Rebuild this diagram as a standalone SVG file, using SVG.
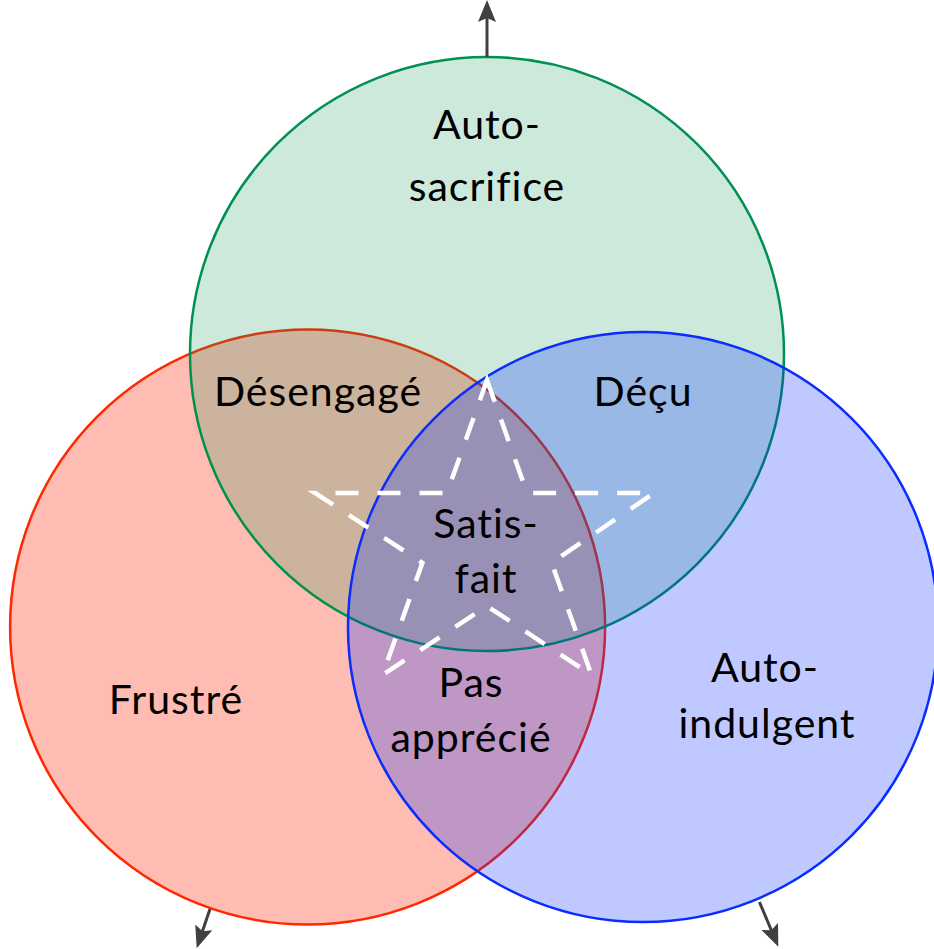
<svg xmlns="http://www.w3.org/2000/svg" width="934" height="949" viewBox="0 0 934 949">
  <style>
    .lbl { font-family: "Lato", "Open Sans", sans-serif; font-size: 41px; letter-spacing: 1px; fill: #000; text-anchor: middle; }
    .circ { stroke-width: 2.5; }
    .arrow { stroke: #404040; stroke-width: 3; fill: none; marker-end: url(#head); }
    .star { fill: none; stroke: #fff; stroke-width: 4.5; stroke-dasharray: 23 19; stroke-linejoin: miter; }
  </style>
  <defs>
    <marker id="head" markerUnits="userSpaceOnUse" markerWidth="24" markerHeight="20" refX="12" refY="10" orient="auto">
      <path d="M0,1 L22,10 L0,19 L4,10 Z" fill="#404040"/>
    </marker>
  </defs>
  <rect width="934" height="949" fill="#fff"/>
  <g id="frustre">
    <circle class="circ" cx="307.6" cy="627" r="297.5" fill="rgba(255,32,0,0.3)" stroke="#ff2800"/>
  </g>
  <g id="auto-sacrifice">
    <circle class="circ" cx="487" cy="354" r="297" fill="rgba(0,144,80,0.2)" stroke="#009050"/>
  </g>
  <g id="auto-indulgent">
    <circle class="circ" cx="643" cy="627" r="295" fill="rgba(0,40,255,0.25)" stroke="#0a2cff"/>
  </g>
  <g id="satisfait-star">
    <path class="star" d="M487,380 L527,493 L654,493 L551.6,562.8 L591.5,675 L487,606 L382.5,675 L422.4,562.8 L315,493 L447,493 Z"/>
  </g>
  <g id="connectors">
    <line class="arrow" x1="487" y1="57" x2="487" y2="10"/>
    <line class="arrow" x1="210" y1="909" x2="199.9" y2="938.8"/>
    <line class="arrow" x1="759.4" y1="902" x2="774.4" y2="937.5"/>
  </g>
  <g id="label-auto-sacrifice">
    <text class="lbl" x="487" y="139">Auto-</text>
    <text class="lbl" x="487" y="201">sacrifice</text>
  </g>
  <g id="label-desengage">
    <text class="lbl" x="318" y="406">Désengagé</text>
  </g>
  <g id="label-decu">
    <text class="lbl" x="643" y="406">Déçu</text>
  </g>
  <g id="label-satisfait">
    <text class="lbl" x="486" y="538">Satis-</text>
    <text class="lbl" x="486" y="593">fait</text>
  </g>
  <g id="label-frustre">
    <text class="lbl" x="176" y="714">Frustré</text>
  </g>
  <g id="label-pas-apprecie">
    <text class="lbl" x="471" y="697">Pas</text>
    <text class="lbl" x="471" y="752">apprécié</text>
  </g>
  <g id="label-auto-indulgent">
    <text class="lbl" x="765" y="682">Auto-</text>
    <text class="lbl" x="767" y="738">indulgent</text>
  </g>
</svg>
